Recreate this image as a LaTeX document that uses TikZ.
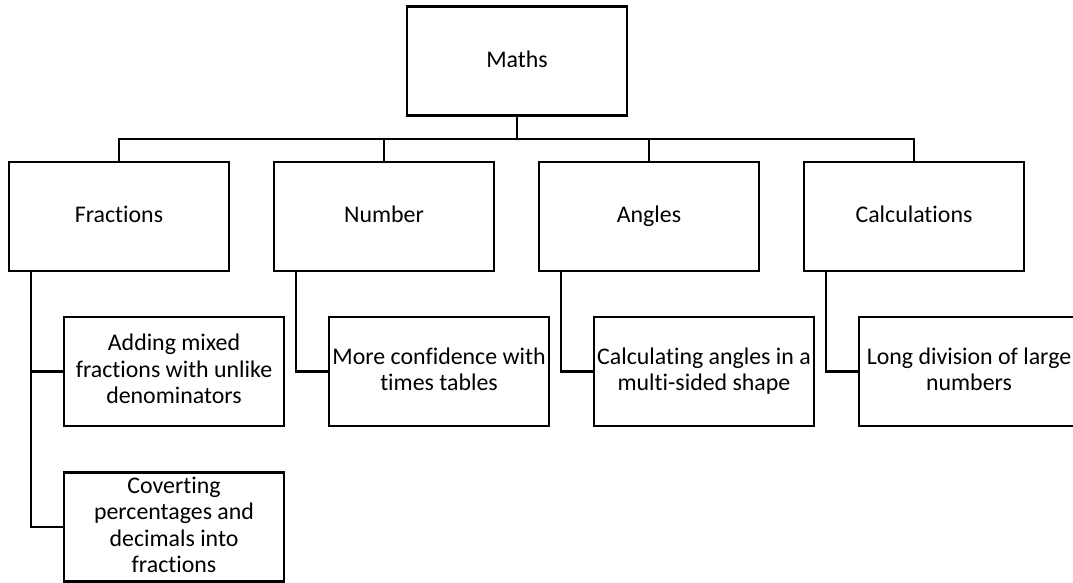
\documentclass[tikz,border=0pt]{standalone}
\usepackage{fontspec}
\setmainfont{Carlito}[Ligatures=NoCommon]
\usepackage{xcolor}
\usepackage{tikz}

\tikzset{
  topicbox/.style={draw=black,line width=1.6pt,fill=white,minimum width=165pt,
    minimum height=81.75pt,align=center,inner sep=1pt,
    font=\fontsize{17.9}{19.8}\selectfont,
    execute at begin node=\rule{0pt}{12.8pt},
    execute at end node=\rule[-3.6pt]{0pt}{3.6pt}},
  link/.style={black,line width=1.6pt}
}

\begin{document}
\begin{tikzpicture}[x=0.75pt,y=-0.75pt]
  \useasboundingbox (0,0) rectangle (1073,582);
  % root and topics
  \node[topicbox] (maths) at (517,61) {Maths};
  \node[topicbox] (frac) at (119,216.5) {Fractions};
  \node[topicbox] (numb) at (384,216.5) {Number};
  \node[topicbox] (angl) at (649,216.5) {Angles};
  \node[topicbox] (calc) at (914,216.5) {Calculations};
  % targets
  \node[topicbox] (addfr) at (174,371.5) {Adding mixed\\fractions with unlike\\denominators};
  \node[topicbox] (convfr) at (174,527) {Coverting\\percentages and\\decimals into\\fractions};
  \node[topicbox] (times) at (439,371.5) {More confidence with\\times tables};
  \node[topicbox] (sides) at (704,371.5) {Calculating angles in a\\multi-sided shape};
  \node[topicbox] (longdiv) at (969,371.5) {Long division of large\\numbers};
  % connectors
  \foreach \n in {frac,numb,angl,calc}
    \draw[link] (maths.south) -- ++(0,22) -| (\n.north);
  \draw[link] ([xshift=17.25pt]frac.south west) |- (addfr.west);
  \draw[link] ([xshift=17.25pt]frac.south west) |- (convfr.west);
  \draw[link] ([xshift=17.25pt]numb.south west) |- (times.west);
  \draw[link] ([xshift=17.25pt]angl.south west) |- (sides.west);
  \draw[link] ([xshift=17.25pt]calc.south west) |- (longdiv.west);
\end{tikzpicture}
\end{document}
